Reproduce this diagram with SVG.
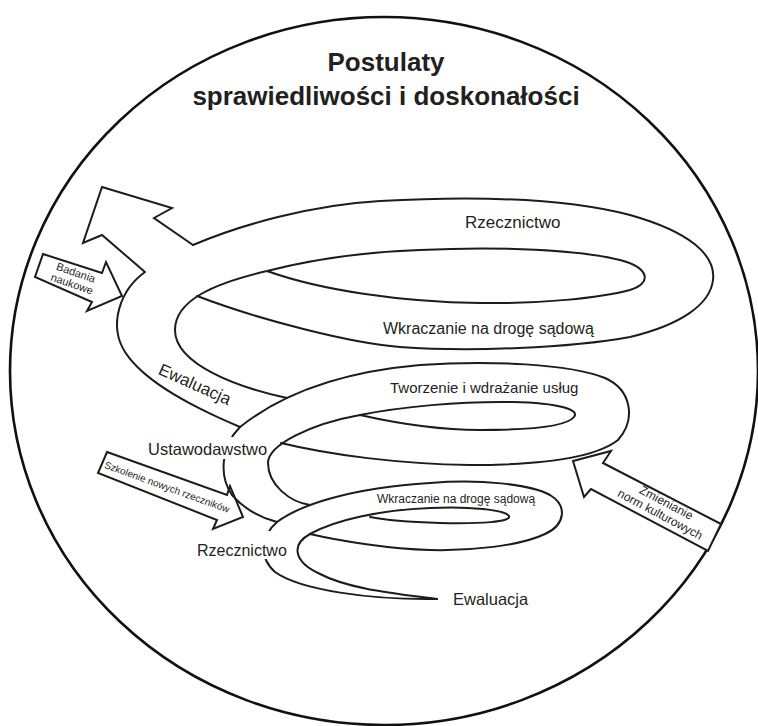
<svg xmlns="http://www.w3.org/2000/svg" width="758" height="726" viewBox="0 0 758 726">
<style>
.ln{fill:none;stroke:#1c1c1c;stroke-width:2;stroke-linecap:round;stroke-linejoin:round}
.ar{fill:#fff;stroke:#1c1c1c;stroke-width:2;stroke-linejoin:miter}
.t{font-family:"Liberation Sans",Arial,sans-serif;fill:#231f20}
.ttl{font-family:"Liberation Sans",Arial,sans-serif;font-weight:bold;font-size:26px;fill:#231f20;text-anchor:middle}
.mid{text-anchor:middle}
</style>
<rect width="758" height="726" fill="#fff"/>
<g id="frame">
<ellipse cx="384" cy="371" rx="374" ry="354" fill="none" stroke="#111" stroke-width="2.6"/>
</g>
<g id="title">
<text class="ttl" x="386" y="71">Postulaty</text>
<text class="ttl" x="386" y="105">sprawiedliwości i doskonałości</text>
</g>
<g id="arrows">
<g id="arrow-exit"><polyline class="ar" points="193,245 154,218 172,208 102,187 83,243 102,235 145,272"/></g>
<g id="arrow-badania"><polygon class="ar" points="43,254 102,273 106,262 122,296 87,311 92,302 35,277"/></g>
<g id="arrow-szkolenie"><polygon class="ar" points="107,452 227,495 230,486 243,517 213,529 217,520 98,473"/></g>
<g id="arrow-zmienianie"><polygon class="ar" points="573,461 611,451 603,463 721,524 708,551 591,489 584,497"/></g>
</g>
<g id="spiral">
<g id="coil-1">
<path class="ln" d="M193,245 C240,225 310,205 380,201 C470,196 560,197 630,215 C690,232 716,255 713,280 C710,305 680,325 630,337 C570,348 470,352 400,347 C350,343 260,320 197,296"/>
<path class="ln" d="M145,272 C120,290 108,325 125,352 C145,383 195,408 240,427"/>
<path class="ln" d="M287,398 C240,388 175,365 175,330 C175,300 215,283 267,271 C310,260 360,252 420,250 C500,246 580,250 620,260 C650,268 652,283 630,290 C600,298 540,304 480,303 C400,302 320,290 267,271"/>
</g>
<g id="coil-2">
<path class="ln" d="M240,427 C280,395 340,372 420,365 C490,360 570,364 605,378 C632,390 636,420 618,440 C595,458 540,465 470,465 C400,464 330,455 281,443"/>
<path class="ln" d="M240,427 C222,445 218,475 232,495 C245,510 262,518 277,522"/>
<path class="ln" d="M310,505 C290,502 268,485 268,463 C268,445 310,424 360,415 C400,407 460,401 513,402 C560,403 580,410 574,417 C567,426 530,430 480,430 C440,430 400,424 360,415"/>
</g>
<g id="coil-3">
<path class="ln" d="M277,522 C300,505 350,488 430,483 C480,479 530,484 550,495 C568,506 565,525 545,534 C520,546 470,551 430,550 C390,549 340,541 310,534"/>
<path class="ln" d="M277,522 C262,535 258,557 275,572 C300,590 370,600 437,599"/>
<path class="ln" d="M437,599 C400,594 350,590 318,573 C295,562 290,545 310,534 C335,520 380,510 430,508 C470,506 505,510 509,516 C512,522 480,524 440,523 C410,522 385,520 370,517"/>
</g>
</g>
<g id="labels">
<rect x="146" y="437" width="121" height="22" fill="#fff"/>
<rect x="195" y="531" width="93" height="28" fill="#fff"/>
<text class="t" x="465" y="228" font-size="17">Rzecznictwo</text>
<text class="t" x="383" y="334" font-size="16">Wkraczanie na drogę sądową</text>
<text class="t" x="390" y="393" font-size="15">Tworzenie i wdrażanie usług</text>
<text class="t" x="377" y="503" font-size="12">Wkraczanie na drogę sądową</text>
<text class="t" x="453" y="605" font-size="16.5">Ewaluacja</text>
<text class="t" x="148" y="455" font-size="16.5">Ustawodawstwo</text>
<text class="t" x="197" y="556" font-size="16">Rzecznictwo</text>
<text class="t mid" font-size="17" transform="translate(195,384) rotate(24)" y="6">Ewaluacja</text>
<text class="t mid" font-size="10" transform="translate(167,487) rotate(20)" y="3.5">Szkolenie nowych rzeczników</text>
<g transform="translate(74,278) rotate(19)">
<text class="t mid" font-size="11" y="-2">Badania</text>
<text class="t mid" font-size="11" y="10">naukowe</text>
</g>
<g transform="translate(663,509) rotate(28)">
<text class="t mid" font-size="12" y="-3">Zmienianie</text>
<text class="t mid" font-size="12" y="10">norm kulturowych</text>
</g>
</g>
</svg>
